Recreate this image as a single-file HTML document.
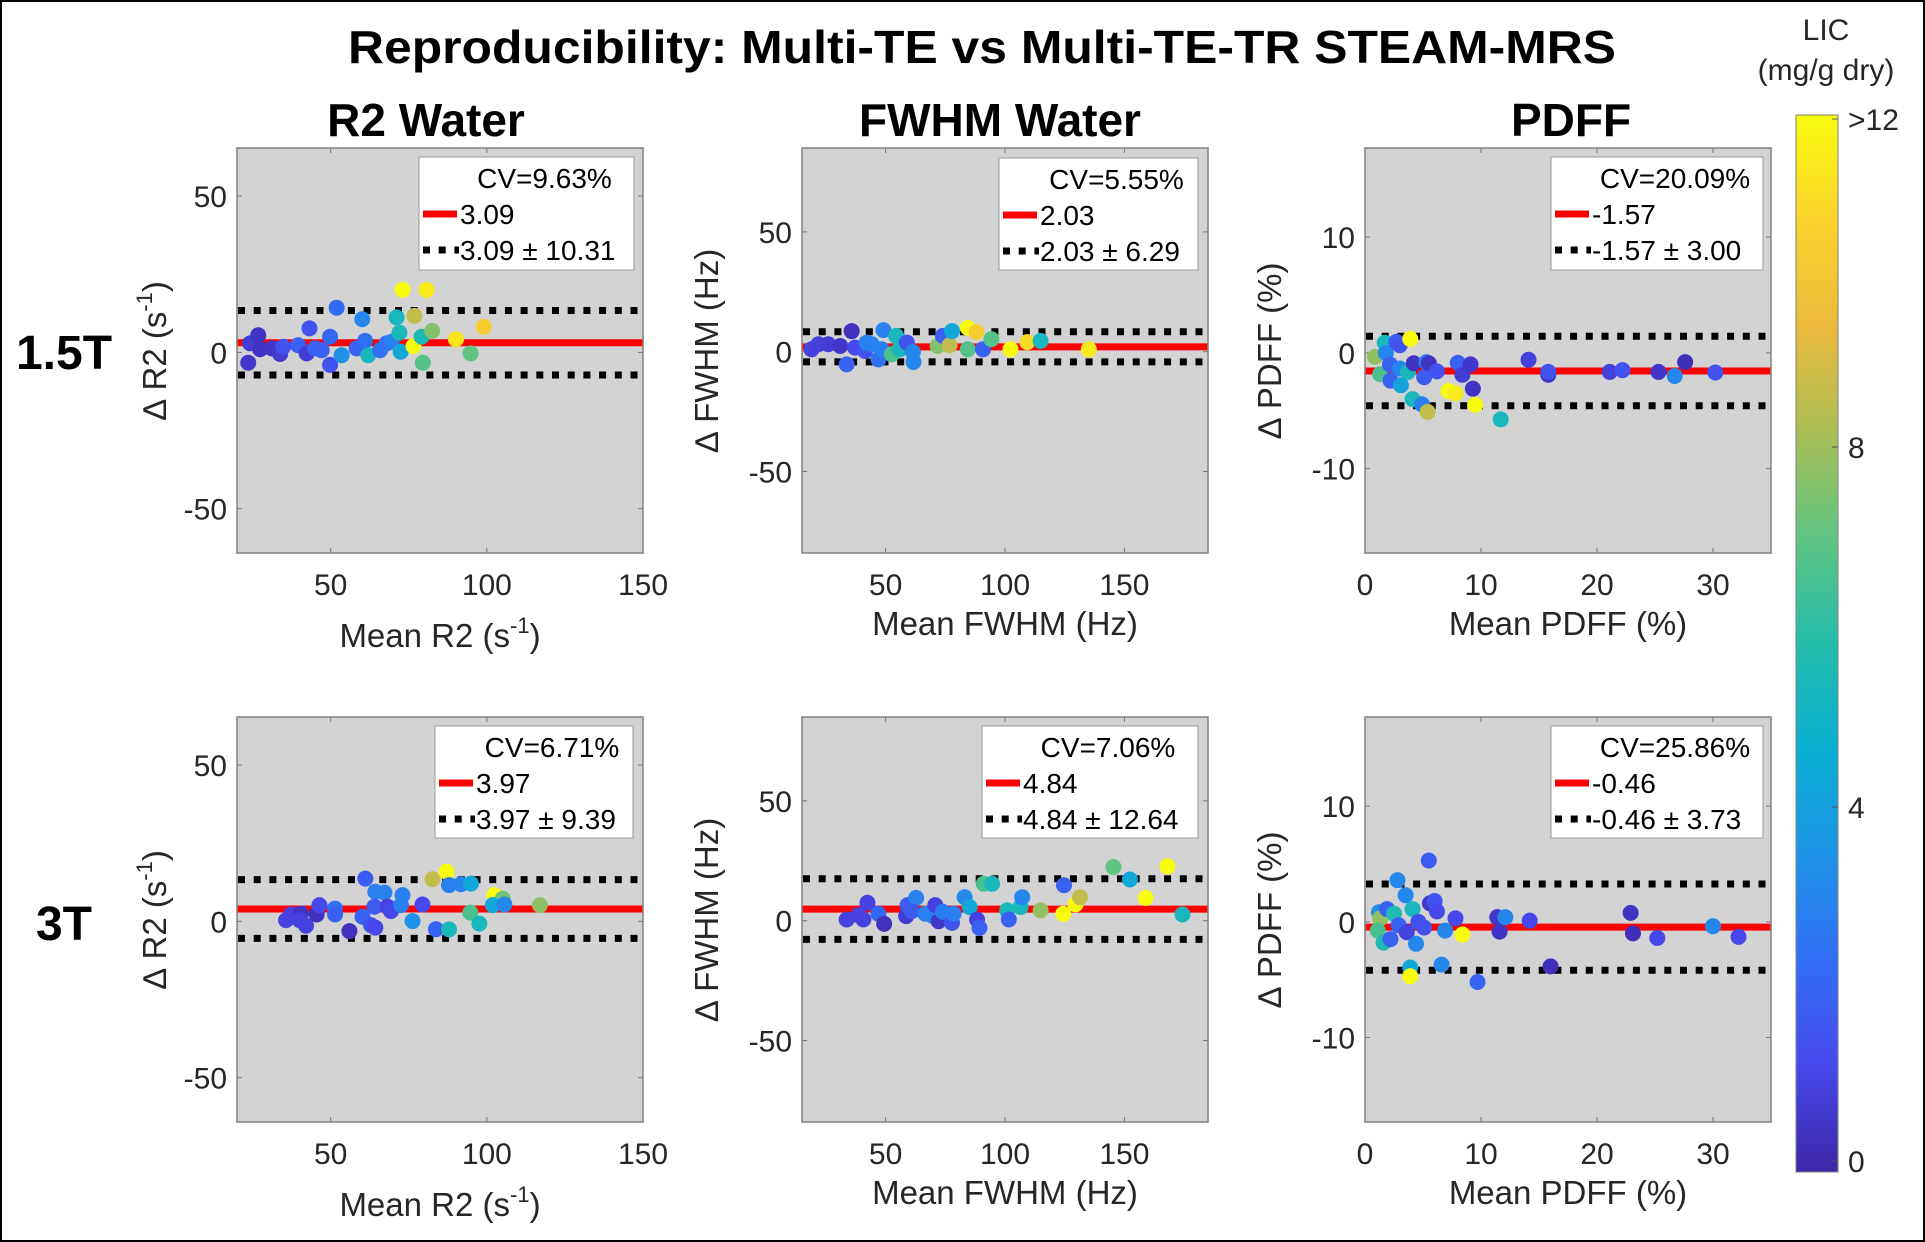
<!DOCTYPE html>
<html><head><meta charset="utf-8">
<style>
html,body{margin:0;padding:0;background:#fff;}
svg{display:block;font-family:"Liberation Sans",Arial,sans-serif;}
</style></head>
<body>
<svg id="fig" width="1925" height="1242" viewBox="0 0 1925 1242" xmlns="http://www.w3.org/2000/svg">
<rect x="1" y="1" width="1923" height="1240" fill="#fff" stroke="#000" stroke-width="2"/>
<text x="982" y="63" text-anchor="middle" font-size="46" font-weight="bold" textLength="1268" lengthAdjust="spacingAndGlyphs">Reproducibility: Multi-TE vs Multi-TE-TR STEAM-MRS</text>
<text x="426" y="136" text-anchor="middle" font-size="46" font-weight="bold">R2 Water</text>
<text x="1000" y="136" text-anchor="middle" font-size="46" font-weight="bold">FWHM Water</text>
<text x="1571" y="136" text-anchor="middle" font-size="46" font-weight="bold">PDFF</text>
<text x="64" y="369" text-anchor="middle" font-size="48" font-weight="bold">1.5T</text>
<text x="64" y="940" text-anchor="middle" font-size="48" font-weight="bold">3T</text>
<g id="panels"></g>
<g id="cbar"></g>
</svg>
<script>
// ---------- data ----------
const r2_15_x = [24.2,26.8,23.6,27.4,31.1,33.8,34.8,39.6,42.3,43.2,45,47.1,49.8,49.8,51.9,53.5,58.3,60.1,61,62,65.8,67.9,69.5,71.1,72,72.4,73,76.5,76.8,79.1,79.5,80.7,82.5,90.1,94.8,99];
const r2_15_y = [2.9,5.5,-3.3,1.0,1.3,-0.5,1.8,2.3,-0.3,7.7,1.3,0.7,5,-4,14.3,-0.9,1.3,10.6,3.7,-0.9,0.7,2.9,3.4,11.2,6.3,0.2,20,2,11.7,5,-3.3,20,6.9,4.2,-0.3,8.2];
const r2_15_lic = [0.8,0.5,0.6,0.5,0.6,0.7,1.5,2,0.8,1.5,2,2,2.2,1.5,2.3,3.5,2,3.2,2.5,5.5,2.5,2.5,3,5.5,5.6,4.5,12,12,8.8,5.7,7,11.5,7.8,11.3,7.2,10.5];
const r2_3_x = [35.7,37.3,40.5,40,42.1,45.5,46.4,51.4,51.4,56,60.2,61.1,62.9,64.3,64.3,67.2,64,68.2,69.3,72.5,73,76.2,79.4,82.6,83.7,87.1,87.9,87.9,91.7,94.9,94.7,97.6,102.4,105.1,101.9,105.6,117];
const r2_3_y = [0.4,2.2,2.5,0.4,-1.4,2.2,5.2,4.1,2.2,-3.1,1.5,13.7,-1.2,-2,9.5,9.2,4.7,4.7,3.3,5.2,8.4,0.1,5.4,13.5,-2.5,15.9,11.6,-2.6,11.9,12.1,2.8,-0.7,8.4,7.3,5.2,5.4,5.2];
const r2_3_lic = [1,1,0.5,1,1,0.4,1.2,2.5,2,0.4,2,1.8,1.5,1.2,3,3,1.8,1,1.2,3,3,3.5,1.2,8.8,2,12,3,5.5,3,4.5,6.8,5.5,12,7.5,4.5,3.2,8];
const fw_15_x = [19,21.9,26,31,35.8,33.7,37.2,41.4,42.1,44.2,47,48.4,49.1,52.6,54.4,55.8,58.9,61.4,61.7,71.8,74,76.8,77.8,84.4,84.4,88,90.8,94.3,102.3,109.3,114.9,135.1];
const fw_15_y = [1,3.1,3.1,2.4,8.6,-5.3,1.7,0.3,3.8,3.1,-3.2,1,9,-1.1,6.6,1,3.8,-0.1,-4.3,2.4,6.6,2.7,8.6,10,1,8.2,1,5.2,1,4,4.5,1];
const fw_15_lic = [1,0.9,0.8,0.6,0.4,2,1.2,1.5,3,3,2.5,3,3,6.8,5.5,5.5,1.5,3.2,3.2,7.8,2,8.8,4.5,12,7,10.5,2,7,12,11,5.5,11.5];
const fw_3_x = [33.7,38.6,40.7,42.4,47,49.4,58.6,59.2,62.8,61,66.6,69.8,70.8,72.2,74,77.8,78.5,83.1,85.2,88.3,89.3,91.1,94.6,100.9,101.6,106.5,107.2,114.9,124.4,124.7,129.5,131.4,145.4,152.3,158.9,168,174.3];
const fw_3_y = [0.5,2.3,0.5,7.5,2.9,-1.3,1.9,6.5,9.5,4,2.9,1.9,6.5,-0.2,3.7,-0.9,2.9,9.8,5.7,0.5,-3,15.4,15.4,4.3,0.5,5.7,9.8,4.3,2.9,14.8,6.8,9.8,22.4,17.2,9.5,22.7,2.6];
const fw_3_lic = [1,1,1,1,2.2,0.4,0.8,1.8,3,1.8,3,3,1,0.6,2.8,1.5,3,3.2,4.5,1,2,6.8,5.5,5.5,2,5.5,3.2,8,12,2,12,8.8,7.2,4.5,12,12,5.5];
const pd_15_x = [0.86,1.3,1.7,1.8,2.15,2.2,2.7,3,3,3.1,3.7,3.9,4.1,4.2,4.9,5.1,5.3,5.5,5.4,6.2,7.2,7.8,8,8.4,9.1,9.3,9.5,11.7,14.1,15.8,15.8,21.1,22.2,25.3,26.7,27.6,30.2];
const pd_15_y = [-0.35,-1.85,0.87,0,-1,-2.4,0.95,0.66,-1.36,-2.8,-1.65,1.2,-4,-0.9,-4.45,-2.1,-0.8,-0.9,-5.1,-1.6,-3.3,-3.5,-0.87,-1.9,-1,-3.1,-4.5,-5.75,-0.6,-1.9,-1.65,-1.65,-1.5,-1.65,-2,-0.8,-1.7];
const pd_15_lic = [8,6.8,5.5,3.2,2,2,1.8,1.5,3.2,4.2,5.5,12,5.5,0.5,3,1.8,3,0.5,8.8,1.5,12,11.5,2,0.8,0.6,0.5,12,5.5,0.9,0.4,1.5,0.9,1.5,0.6,3.2,0.3,1.5];
const pd_3_x = [1.2,1.3,1.1,1.6,1.9,2.5,2.2,2.8,2.9,3.5,3.6,3.9,3.9,4.1,4.4,4.6,5.1,5.5,5.6,6,6.2,6.9,6.6,7.8,8.4,9.7,11.4,11.6,12.1,14.2,16,22.9,23.1,25.2,30,32.2];
const pd_3_y = [0.83,0.3,-0.76,-1.8,1.1,0.7,-1.5,3.6,-0.3,2.3,-0.9,-3.95,-4.7,1.1,-1.9,0,-0.5,5.3,1.6,1.8,0.9,-0.76,-3.7,0.3,-1.1,-5.2,0.4,-0.85,0.4,0.1,-3.85,0.77,-1,-1.4,-0.38,-1.3];
const pd_3_lic = [3.5,8,6.8,5.8,2,5.8,2,3.2,2,3.2,1,4.5,12,5.5,3.2,1.5,1.5,1.8,0.6,1.5,1.2,3.2,3.2,1.2,12,2,0.6,0.5,3.2,1.2,0.3,0.5,0.3,1.2,3.2,1.2];
const means = [3.09,2.03,-1.57,3.97,4.84,-0.46];
const loas = [10.31,6.29,3.00,9.39,12.64,3.73];
const cvs = ["9.63%","5.55%","20.09%","6.71%","7.06%","25.86%"];
const meanLabels = ["3.09","2.03","-1.57","3.97","4.84","-0.46"];
const loaLabels = ["3.09 \u00b1 10.31","2.03 \u00b1 6.29","-1.57 \u00b1 3.00","3.97 \u00b1 9.39","4.84 \u00b1 12.64","-0.46 \u00b1 3.73"];
const r2Ticks = [50,100,150], r2YTicks = [50,0,-50];
const fwTicks = [50,100,150], fwYTicks = [50,0,-50];
const pdTicks = [0,10,20,30], pdYTicks = [10,0,-10];
const cbarTicks = [">12","8","4","0"];

// ---------- helpers ----------
const NS = "http://www.w3.org/2000/svg";
function mk(tag, attrs, parent){const e=document.createElementNS(NS,tag);for(const k in attrs)e.setAttribute(k,attrs[k]);if(parent)parent.appendChild(e);return e;}
const parStops=[[62,38,168],[70,72,235],[50,110,245],[30,148,232],[10,175,210],[35,188,170],[95,196,130],[170,190,85],[235,186,60],[250,212,45],[249,251,14]];
function parula(v){let t=Math.max(0,Math.min(1,v/12))*10;const i=Math.min(9,Math.floor(t));const f=t-i;const a=parStops[i],b=parStops[i+1];return "rgb("+a.map((c,k)=>Math.round(c+(b[k]-c)*f)).join(",")+")";}

const panels=[
 {name:"r2-1-5t",px:237,py:148,xd:[20,150],yd:[-64.2,65.4],xs:r2_15_x,ys:r2_15_y,ls:r2_15_lic,xt:r2Ticks,yt:r2YTicks,xl:"r2",leg:[419,157,215,113]},
 {name:"fwhm-1-5t",px:802,py:148,xd:[15,185],yd:[-84,85],xs:fw_15_x,ys:fw_15_y,ls:fw_15_lic,xt:fwTicks,yt:fwYTicks,xl:"fw",leg:[999,158,199,112]},
 {name:"pdff-1-5t",px:1365,py:148,xd:[0,35],yd:[-17.3,17.7],xs:pd_15_x,ys:pd_15_y,ls:pd_15_lic,xt:pdTicks,yt:pdYTicks,xl:"pd",leg:[1551,157,212,113]},
 {name:"r2-3t",px:237,py:717,xd:[20,150],yd:[-64.2,65.4],xs:r2_3_x,ys:r2_3_y,ls:r2_3_lic,xt:r2Ticks,yt:r2YTicks,xl:"r2",leg:[435,726,198,112]},
 {name:"fwhm-3t",px:802,py:717,xd:[15,185],yd:[-84,85],xs:fw_3_x,ys:fw_3_y,ls:fw_3_lic,xt:fwTicks,yt:fwYTicks,xl:"fw",leg:[982,726,216,112]},
 {name:"pdff-3t",px:1365,py:717,xd:[0,35],yd:[-17.3,17.7],xs:pd_3_x,ys:pd_3_y,ls:pd_3_lic,xt:pdTicks,yt:pdYTicks,xl:"pd",leg:[1551,726,212,112]}
];
const W=406,H=405;
const root=document.getElementById("panels");
panels.forEach((p,idx)=>{
  const g=mk("g",{},root);
  
  
  const sx=v=>p.px+(v-p.xd[0])/(p.xd[1]-p.xd[0])*W;
  const sy=v=>p.py+H-(v-p.yd[0])/(p.yd[1]-p.yd[0])*H;
  const cid="clip"+idx;
  const cp=mk("clipPath",{id:cid},g);mk("rect",{x:p.px,y:p.py,width:W,height:H},cp);
  const bg=mk("rect",{x:p.px,y:p.py,width:W,height:H,fill:"#d3d3d3"},g);
  
  
  p.xt.forEach(t=>{const x=sx(t);
    mk("line",{x1:x,x2:x,y1:p.py+H,y2:p.py+H-5,stroke:"#777","stroke-width":1},g);
    mk("line",{x1:x,x2:x,y1:p.py,y2:p.py+5,stroke:"#777","stroke-width":1},g);
    const tl=mk("text",{x:x,y:p.py+H+42,"text-anchor":"middle","font-size":30,fill:"#262626"},g);tl.textContent=t;
    
    
  });
  p.yt.forEach(t=>{const y=sy(t);
    mk("line",{x1:p.px,x2:p.px+5,y1:y,y2:y,stroke:"#777","stroke-width":1},g);
    mk("line",{x1:p.px+W,x2:p.px+W-5,y1:y,y2:y,stroke:"#777","stroke-width":1},g);
    const tl=mk("text",{x:p.px-10,y:y+11,"text-anchor":"end","font-size":30,fill:"#262626"},g);tl.textContent=t;
    
    
  });
  const cg=mk("g",{"clip-path":"url(#"+cid+")"},g);
  const m=means[idx],l=loas[idx];
  const ml=mk("line",{x1:p.px,x2:p.px+W,y1:sy(m),y2:sy(m),stroke:"#ff0000","stroke-width":7},cg);
  
  
  [m+l,m-l].forEach((v,k)=>{
    const dl=mk("line",{x1:p.px+1,x2:p.px+W,y1:sy(v),y2:sy(v),stroke:"#000","stroke-width":7,"stroke-dasharray":"7 8.7"},cg);
    
    
  });
  p.xs.forEach((xv,i)=>{
    const c=mk("circle",{cx:sx(xv),cy:sy(p.ys[i]),r:8,fill:parula(p.ls[i])},cg);
    
    
  });
  mk("rect",{x:p.px,y:p.py,width:W,height:H,fill:"none",stroke:"#808080","stroke-width":1.5},g);
  const [lx,ly,lw,lh]=p.leg;
  const lg=mk("g",{},g);
  
  
  mk("rect",{x:lx,y:ly,width:lw,height:lh,fill:"#fff",stroke:"#999","stroke-width":1},lg);
  const tx=lx+41;
  const cv=mk("text",{x:(tx+lx+lw-5)/2,y:ly+31,"text-anchor":"middle","font-size":28},lg);cv.textContent="CV="+cvs[idx];
  
  
  mk("line",{x1:lx+4,x2:lx+38,y1:ly+57,y2:ly+57,stroke:"#ff0000","stroke-width":7},lg);
  const t2=mk("text",{x:tx,y:ly+67,"font-size":28},lg);t2.textContent=meanLabels[idx];
  
  
  mk("line",{x1:lx+4,x2:lx+40,y1:ly+93,y2:ly+93,stroke:"#000","stroke-width":7,"stroke-dasharray":"7 8.7"},lg);
  const t3=mk("text",{x:tx,y:ly+103,"font-size":28},lg);t3.textContent=loaLabels[idx];
  
  
  const cx=p.px+W/2;
  const xlab=mk("text",{x:cx,y:p.py+H+(p.xl=="r2"?94:82),"text-anchor":"middle","font-size":33,fill:"#262626"},g);
  
  
  const ylab=mk("text",{x:0,y:0,"text-anchor":"middle","font-size":33,fill:"#262626",transform:"translate("+(p.px-(p.xl=="r2"?71:84))+","+(p.py+H/2)+") rotate(-90)"},g);
  
  
  if(p.xl=="r2"){
    xlab.innerHTML='Mean R2 (s<tspan font-size="22" dy="-14">-1</tspan><tspan dy="14">)</tspan>';
    ylab.innerHTML='\u2206 R2 (s<tspan font-size="22" dy="-14">-1</tspan><tspan dy="14">)</tspan>';
  } else if(p.xl=="fw"){xlab.textContent="Mean FWHM (Hz)";ylab.textContent="\u2206 FWHM (Hz)";}
  else {xlab.textContent="Mean PDFF (%)";ylab.textContent="\u2206 PDFF (%)";}
});
const cb=document.getElementById("cbar");


const defs=mk("defs",{},cb);
const grad=mk("linearGradient",{id:"par",x1:0,y1:1,x2:0,y2:0},defs);
parStops.forEach((s,i)=>mk("stop",{offset:(i/10),"stop-color":"rgb("+s.join(",")+")"},grad));
mk("rect",{x:1796,y:115,width:42,height:1057,fill:"url(#par)",stroke:"#808080","stroke-width":1},cb);
const cbY=[119,447,807,1161];
cbarTicks.forEach((t,i)=>{
  mk("line",{x1:1832,x2:1838,y1:cbY[i],y2:cbY[i],stroke:"#555"},cb);
  const tl=mk("text",{x:1848,y:cbY[i]+11,"font-size":30,fill:"#262626"},cb);tl.textContent=t;
  
  
});
const c1=mk("text",{x:1826,y:40,"text-anchor":"middle","font-size":30,fill:"#262626"},cb);c1.textContent="LIC";


const c2=mk("text",{x:1826,y:80,"text-anchor":"middle","font-size":30,fill:"#262626"},cb);c2.textContent="(mg/g dry)";


</script>
</body></html>
